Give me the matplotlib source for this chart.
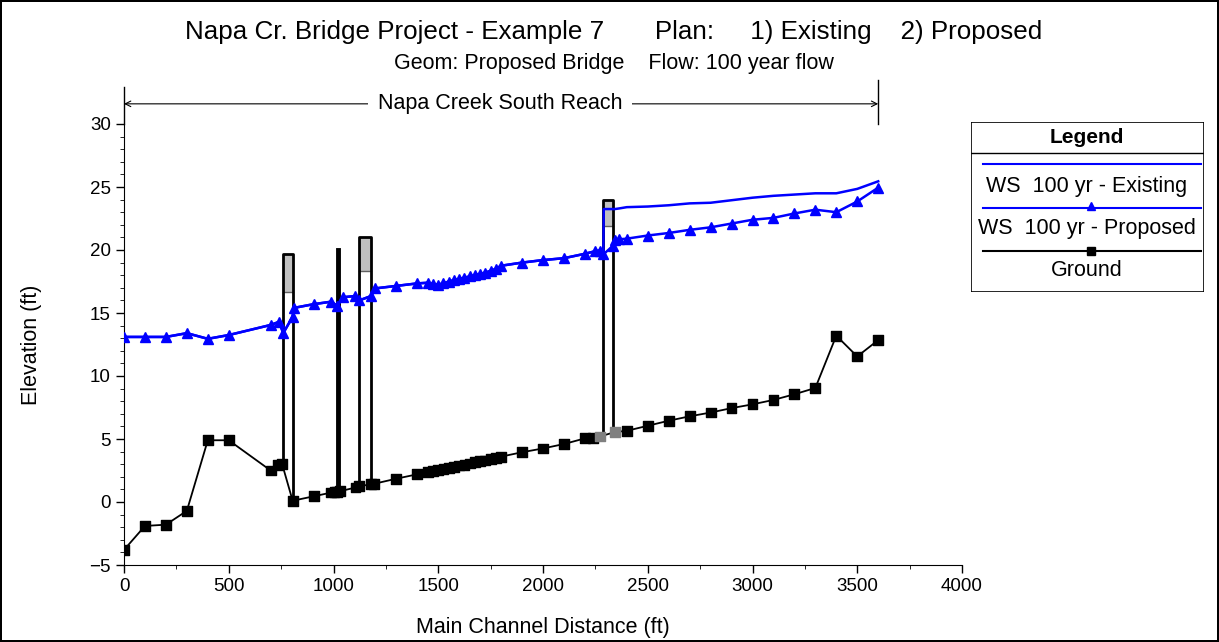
import matplotlib
matplotlib.use('Agg')
import matplotlib.pyplot as plt
from matplotlib.patches import Rectangle
from matplotlib.lines import Line2D
from matplotlib.ticker import MultipleLocator

plt.rcParams['font.family'] = ['Liberation Sans', 'DejaVu Sans']

# ground profile
ground_x = [0, 100, 200, 300, 400, 500, 700, 735, 755, 805, 905, 990, 1005, 1018, 1030,
            1105, 1120, 1180, 1195, 1300, 1400,
            1450, 1475, 1500, 1525, 1550, 1575, 1600, 1625, 1650, 1675, 1700, 1725, 1750, 1775, 1800,
            1900, 2000, 2100, 2200, 2240, 2272, 2343,
            2400, 2500, 2600, 2700, 2800, 2900, 3000, 3100, 3200, 3300, 3400, 3500, 3600]
ground_y = [-3.8, -1.9, -1.8, -0.7, 4.9, 4.9, 2.5, 2.95, 3.0, 0.1, 0.45, 0.75, 0.8, 0.8, 0.85,
            1.15, 1.25, 1.4, 1.45, 1.85, 2.2,
            2.4, 2.45, 2.55, 2.65, 2.7, 2.8, 2.9, 2.95, 3.05, 3.15, 3.25, 3.3, 3.4, 3.5, 3.6,
            3.95, 4.25, 4.6, 5.05, 5.05, 5.2, 5.55,
            5.65, 6.05, 6.45, 6.8, 7.1, 7.45, 7.75, 8.1, 8.55, 9.05, 13.2, 11.55, 12.85]
ground_gray = [2272, 2343]

# water surface, proposed
ws_x = [0, 100, 200, 300, 400, 500, 700, 740, 760, 805, 810, 905, 990, 1018, 1045,
        1105, 1123, 1180, 1198, 1300, 1400,
        1450, 1475, 1500, 1525, 1550, 1575, 1600, 1625, 1650, 1675, 1700, 1725, 1750, 1775, 1800,
        1900, 2000, 2100, 2200, 2248, 2272, 2288, 2335, 2343, 2364,
        2400, 2500, 2600, 2700, 2800, 2900, 3000, 3100, 3200, 3300, 3400, 3500, 3600]
ws_prop = [13.1, 13.1, 13.1, 13.4, 12.95, 13.25, 14.05, 14.3, 13.4, 14.7, 15.4, 15.7, 15.9, 15.55, 16.25,
           16.35, 16.0, 16.35, 16.95, 17.15, 17.35,
           17.4, 17.3, 17.25, 17.35, 17.5, 17.6, 17.7, 17.8, 17.9, 18.0, 18.1, 18.2, 18.35, 18.5, 18.75,
           19.0, 19.2, 19.35, 19.7, 19.9, 19.95, 19.65, 20.35, 20.8, 20.85,
           20.9, 21.15, 21.35, 21.6, 21.8, 22.1, 22.4, 22.55, 22.9, 23.2, 23.0, 23.85, 24.95]

# water surface, existing (same as proposed below station 2288)
exist_up_x = [2290, 2343, 2364, 2400, 2500, 2600, 2700, 2800, 2900, 3000, 3100, 3200, 3300, 3400, 3500, 3600]
exist_up_y = [23.25, 23.25, 23.3, 23.4, 23.45, 23.55, 23.7, 23.75, 23.95, 24.15, 24.3, 24.4, 24.5, 24.5, 24.85, 25.45]

# bridges: left face, right face, low chord, top of road, ground at faces
br_left = [760, 1123, 2285]
br_right = [805, 1179, 2335]
br_low = [16.7, 18.3, 21.9]
br_top = [19.7, 21.0, 24.0]
br_gl = [3.0, 1.25, 5.2]
br_gr = [0.1, 1.4, 5.5]
# inline structure
inl_x = 1021
inl_bot, inl_top = 0.8, 20.0

k = ws_x.index(2288) + 1
ex_x = ws_x[:k] + exist_up_x
ex_y = ws_prop[:k] + exist_up_y

fig = plt.figure(figsize=(12.19, 6.42), dpi=100)
fig.patch.set_edgecolor('black')
fig.patch.set_linewidth(1.5)
ax = fig.add_axes([124 / 1219, 77 / 642, 838 / 1219, 441 / 642])

for xl, xr, lo, top, gl, gr in zip(br_left, br_right, br_low, br_top, br_gl, br_gr):
    ax.add_patch(Rectangle((xl, lo), xr - xl, top - lo, facecolor='#c0c0c0', edgecolor='none', zorder=1))
    ax.plot([xl, xr], [lo, lo], color='#606060', lw=1, zorder=2)
    ax.plot([xl, xl, xr, xr], [gl, top, top, gr], color='black', lw=2, zorder=2)
ax.plot([inl_x, inl_x], [inl_bot, inl_top], color='black', lw=3.5, zorder=2)

ax.plot(ex_x, ex_y, color='#0000ff', lw=1.8, zorder=3)
ax.plot(ws_x, ws_prop, color='#0000ff', lw=1.8, marker='^', ms=7, zorder=4)
ax.plot(ground_x, ground_y, color='black', lw=1.3, zorder=3)
gcol = ['#808080' if x in ground_gray else 'black' for x in ground_x]
ax.scatter(ground_x, ground_y, marker='s', s=50, c=gcol, zorder=4)

ax.set_xlim(0, 4000)
ax.set_ylim(-5, 30)
ax.xaxis.set_major_locator(MultipleLocator(500))
ax.xaxis.set_minor_locator(MultipleLocator(250))
ax.yaxis.set_major_locator(MultipleLocator(5))
ax.yaxis.set_minor_locator(MultipleLocator(1))
ax.tick_params(labelsize=13.5, length=6, width=1)
ax.tick_params(which='minor', length=3)
for s in ['top', 'right']:
    ax.spines[s].set_visible(False)
ax.set_xlabel('Main Channel Distance (ft)', fontsize=15.5)
ax.set_ylabel('Elevation (ft)', fontsize=15.5)
ax.xaxis.set_label_coords(0.5, -52 / 441)
ax.yaxis.set_label_coords(-82 / 838, 0.5)

# reach annotation
ax.plot([0, 0], [30, 32.9], color='black', lw=1, clip_on=False)
ax.plot([3600, 3600], [30, 33.5], color='black', lw=1, clip_on=False)
ax.annotate('', xy=(0, 31.6), xytext=(3600, 31.6), annotation_clip=False,
            arrowprops=dict(arrowstyle='<->', lw=0.8, shrinkA=0, shrinkB=0))
ax.text(1795, 31.6, 'Napa Creek South Reach', ha='center', va='center', fontsize=15.5,
        bbox=dict(facecolor='white', edgecolor='none', pad=7), clip_on=False)

fig.text(614 / 1219, 1 - 32 / 642,
         'Napa Cr. Bridge Project - Example 7       Plan:     1) Existing    2) Proposed',
         ha='center', va='center', fontsize=18.7)
fig.text(614 / 1219, 1 - 63 / 642, 'Geom: Proposed Bridge    Flow: 100 year flow',
         ha='center', va='center', fontsize=15.5)

# legend box in pixel coordinates
lg = fig.add_axes([971 / 1219, 1 - 292 / 642, 233 / 1219, 170 / 642])
lg.set_xlim(971, 1204)
lg.set_ylim(292, 122)
lg.axis('off')
lg.add_patch(Rectangle((971, 122), 233, 170, facecolor='white', edgecolor='black', lw=1.2))
lg.plot([971, 1204], [153, 153], color='black', lw=1)
lg.text(1087, 137, 'Legend', ha='center', va='center', fontsize=15, fontweight='bold')
lg.add_line(Line2D([983, 1201], [164, 164], color='#0000ff', lw=1.5))
lg.text(1087, 186, 'WS  100 yr - Existing', ha='center', va='center', fontsize=15.5)
lg.add_line(Line2D([983, 1201], [208, 208], color='#0000ff', lw=1.5))
lg.plot([1091], [206], marker='^', color='#0000ff', ms=6)
lg.text(1087, 228, 'WS  100 yr - Proposed', ha='center', va='center', fontsize=15.5)
lg.add_line(Line2D([983, 1201], [251, 251], color='black', lw=1.5))
lg.plot([1091], [251], marker='s', color='black', ms=6)
lg.text(1087, 270, 'Ground', ha='center', va='center', fontsize=15.5)

fig.savefig('out.png', dpi=100)
